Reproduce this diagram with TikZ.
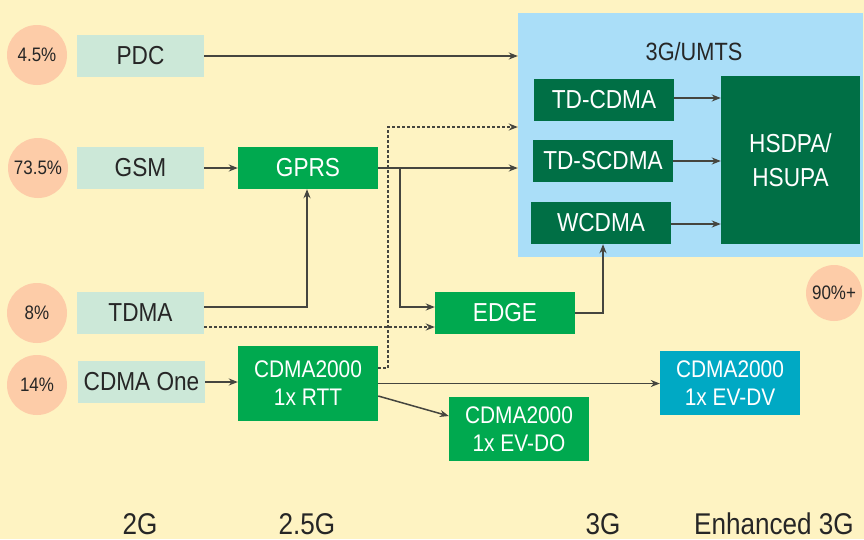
\documentclass[tikz,border=0pt]{standalone}
\usepackage{fontspec}
\setmainfont{Liberation Sans}[FakeStretch=0.87]
\usetikzlibrary{arrows.meta}
\definecolor{bg}{HTML}{FEF3C2}
\definecolor{peach}{HTML}{FDCCA8}
\definecolor{mint}{HTML}{CCE8D8}
\definecolor{grn}{HTML}{00A94F}
\definecolor{dgrn}{HTML}{006F45}
\definecolor{sky}{HTML}{AADEF8}
\definecolor{teal}{HTML}{00A9C4}
\definecolor{ink}{HTML}{262626}
\definecolor{wire}{HTML}{45453F}
\tikzset{
  box/.style={rectangle, inner sep=0pt, align=center, font=\fontsize{26}{30}\selectfont},
  lbox/.style={box, fill=mint, text=ink},
  gbox/.style={box, fill=grn, text=white},
  dbox/.style={box, fill=dgrn, text=white},
  tbox/.style={box, fill=teal, text=white},
  pct/.style={circle, fill=peach, text=ink, minimum size=60pt, inner sep=0pt, font=\fontsize{19.5}{22}\selectfont},
  era/.style={text=ink, inner sep=0pt, anchor=base, font=\fontsize{30}{34}\selectfont},
  conn/.style={draw=wire, line width=1.5pt},
  arr/.style={conn, -{Stealth[length=9pt,width=7pt]}},
  dot/.style={dash pattern=on 2.5pt off 2.5pt}
}
\begin{document}
\begin{tikzpicture}[x=1pt,y=-1pt]
\fill[bg] (0,0) rectangle (864,539);
\useasboundingbox (0,0) rectangle (864,539);
% 3G/UMTS region
\node[rectangle, fill=sky, inner sep=0pt, minimum width=345pt, minimum height=244pt] (umts) at (690.5,135) {};
\node[text=ink, inner sep=0pt, font=\fontsize{25}{28}\selectfont] (umtsl) at (694,52) {3G/UMTS};
% percentage circles
\node[pct] (c1) at (37,55) {4.5\%};
\node[pct] (c2) at (38,168) {73.5\%};
\node[pct] (c3) at (37,313) {8\%};
\node[pct] (c4) at (37,385) {14\%};
\node[pct, minimum size=56pt] (c5) at (834,293) {90\%+};
% 2G boxes
\node[lbox, minimum width=127pt, minimum height=42pt] (pdc) at (140.5,56) {PDC};
\node[lbox, minimum width=127pt, minimum height=42pt] (gsm) at (140.5,168) {GSM};
\node[lbox, minimum width=127pt, minimum height=42pt] (tdma) at (140.5,313) {TDMA};
\node[lbox, minimum width=127pt, minimum height=42pt] (cone) at (141.5,382) {CDMA One};
% 2.5G
\node[gbox, minimum width=140pt, minimum height=42pt] (gprs) at (308,168) {GPRS};
\node[gbox, minimum width=140pt, minimum height=75pt, font=\fontsize{24}{28}\selectfont] (rtt) at (308,383.5) {CDMA2000\\1x RTT};
% 3G
\node[gbox, minimum width=140pt, minimum height=42pt] (edge) at (505,313) {EDGE};
\node[gbox, minimum width=140pt, minimum height=64pt, font=\fontsize{24}{28}\selectfont] (evdo) at (519,429) {CDMA2000\\1x EV-DO};
\node[tbox, minimum width=140pt, minimum height=64pt, font=\fontsize{24}{28}\selectfont] (evdv) at (730,383) {CDMA2000\\1x EV-DV};
\node[dbox, minimum width=140pt, minimum height=42pt] (tdc) at (604,100) {TD-CDMA};
\node[dbox, minimum width=140pt, minimum height=42pt] (tdsc) at (603,161) {TD-SCDMA};
\node[dbox, minimum width=140pt, minimum height=42pt] (wcdma) at (601,223) {WCDMA};
\node[dbox, minimum width=139pt, minimum height=168pt, font=\fontsize{26}{34}\selectfont] (hs) at (790.5,160) {HSDPA/\\HSUPA};
% era labels
\node[era] (g2) at (140,534) {2G};
\node[era] (g25) at (307,534) {2.5G};
\node[era] (g3) at (603,534) {3G};
\node[era] (g3e) at (774,534) {Enhanced 3G};
% connectors
\draw[arr] (pdc.east) -- (pdc.east -| umts.west);
\draw[arr] (gsm.east) -- (gprs.west);
\draw[arr] (gprs.east) -- (gprs.east -| umts.west);
\coordinate (br) at (400,168);
\draw[arr] (br) |- ([yshift=6pt]edge.west);
\coordinate (tdj) at (307,307);
\draw[arr] ([yshift=6pt]tdma.east) -- (tdj) -- (tdj |- gprs.south);
\draw[arr, dot] ([yshift=-14pt]tdma.east) -- ([yshift=-14pt]edge.west);
\coordinate (dj) at (388,127);
\draw[arr, dot] ([yshift=15.5pt]rtt.east) -| (dj) -- (dj -| umts.west);
\draw[arr] (cone.east) -- (cone.east -| rtt.west);
\draw[arr] (rtt.east) -- (rtt.east -| evdv.west);
\draw[arr] ([yshift=-12.5pt]rtt.east) -- ([yshift=13pt]evdo.west);
\coordinate (ej) at (603,313);
\draw[arr] (edge.east) -- (ej) -- (ej |- wcdma.south);
\draw[arr] ([yshift=2pt]tdc.east) -- ([yshift=2pt]tdc.east -| hs.west);
\draw[arr] (tdsc.east) -- (tdsc.east -| hs.west);
\draw[arr] ([yshift=-1pt]wcdma.east) -- ([yshift=-1pt]wcdma.east -| hs.west);
\end{tikzpicture}
\end{document}
